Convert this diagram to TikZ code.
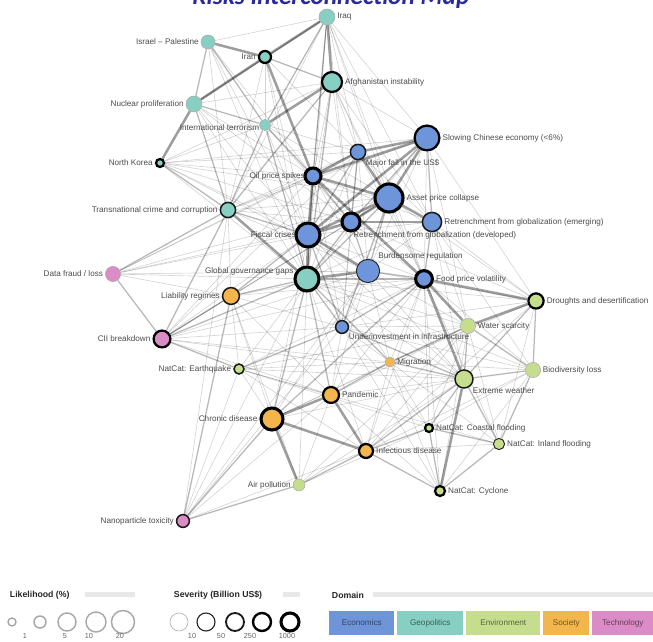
\documentclass[tikz,border=0pt]{standalone}
\usepackage{fontspec}
\setmainfont{Liberation Sans}
\newfontfamily\titlefont{Carlito}
\usepackage{xcolor}
\usetikzlibrary{backgrounds}

\definecolor{econ}{HTML}{6E95DA}
\definecolor{geo}{HTML}{86CFC2}
\definecolor{env}{HTML}{C6DD8E}
\definecolor{soc}{HTML}{F3B64C}
\definecolor{tech}{HTML}{DB8CC6}
\definecolor{titleblue}{HTML}{2A2A9C}

\begin{document}
\begin{tikzpicture}[
    x=0.025cm, y=-0.025cm,
    font=\fontsize{5.8}{7}\selectfont,
    % Styles
    risk/.style={circle, inner sep=0pt},
    econ/.style={risk, fill=econ},
    geo/.style={risk, fill=geo},
    env/.style={risk, fill=env},
    soc/.style={risk, fill=soc},
    tech/.style={risk, fill=tech},
    sev1/.style={draw=gray!65, line width=0.4pt},
    sev2/.style={draw=black!85, line width=0.7pt},
    sev3/.style={draw=black!90, line width=1.1pt},
    sev4/.style={draw=black, line width=1.6pt},
    sev5/.style={draw=black, line width=2.2pt},
    every label/.style={text=black!70, inner sep=0.8pt},
    label distance=0.5pt,
    linkweak/.style={draw=black, draw opacity=0.17, line width=0.45pt},
    linkmid/.style={draw=black, draw opacity=0.28, line width=0.9pt},
    linkstrong/.style={draw=black, draw opacity=0.38, line width=1.8pt},
    legtitle/.style={anchor=west, font=\bfseries\fontsize{6.2}{7}\selectfont, text=black!85},
    legnum/.style={font=\fontsize{5.2}{6}\selectfont, text=black!60},
    legbar/.style={fill=gray!18},
    domainbox/.style={anchor=west, minimum height=0.575cm, inner sep=0pt}
]
\useasboundingbox (0,0) rectangle (653,642);
\clip (0,0) rectangle (653,642);

% --- Title ---
\node[anchor=base, text=titleblue, font=\titlefont\bfseries\itshape\fontsize{18}{20}\selectfont] (title) at (331,5) {Risks Interconnection Map};

% --- Geopolitics ---
\node[geo, sev1, minimum size=0.4cm, label=right:Iraq] (iraq) at (327,17) {};
\node[geo, sev1, minimum size=0.35cm, label=left:Israel – Palestine] (israel) at (208,42) {};
\node[geo, sev4, minimum size=0.3cm, label=left:Iran] (iran) at (265,57) {};
\node[geo, sev4, minimum size=0.5cm, label=right:Afghanistan instability] (afghan) at (332,82) {};
\node[geo, sev1, minimum size=0.4cm, label=left:Nuclear proliferation] (nuclear) at (194,104) {};
\node[geo, sev1, minimum size=0.28cm, label={[label distance=-1pt, yshift=-1.5pt]left:International terrorism}] (terror) at (265,125) {};
\node[geo, sev4, minimum size=0.2cm, label=left:North Korea] (nkorea) at (160,163) {};
\node[geo, sev3, minimum size=0.38cm, label=left:Transnational crime and corruption] (crime) at (228,210) {};
\node[geo, sev5, minimum size=0.6cm, label={[yshift=1.8mm, label distance=-1pt]left:Global governance gaps}] (govgap) at (307,279) {};

% --- Economics ---
\node[econ, sev4, minimum size=0.62cm, label=right:Slowing Chinese economy (<6\%)] (china) at (427,138) {};
\node[econ, sev3, minimum size=0.38cm, label=below right:Major fall in the US\$] (usd) at (358,152) {};
\node[econ, sev5, minimum size=0.4cm, label={[label distance=-2pt]left:Oil price spikes}] (oil) at (313,176) {};
\node[econ, sev5, minimum size=0.7cm, label=right:Asset price collapse] (asset) at (389,198) {};
\node[econ, sev3, minimum size=0.48cm, label=right:Retrenchment from globalization (emerging)] (retr_em) at (432,222) {};
\node[econ, sev5, minimum size=0.45cm, label={[xshift=-5pt]below right:Retrenchment from globalization (developed)}] (retr_dev) at (351,222) {};
\node[econ, sev5, minimum size=0.6cm, label={[label distance=-2pt]left:Fiscal crises}] (fiscal) at (308,235) {};
\node[econ, sev2, minimum size=0.58cm, label=above right:Burdensome regulation] (burden) at (368,271) {};
\node[econ, sev5, minimum size=0.42cm, label=right:Food price volatility] (food) at (424,279) {};
\node[econ, sev3, minimum size=0.32cm, label=below right:Underinvestment in infrastructure] (infra) at (342,327) {};

% --- Technology ---
\node[tech, sev1, minimum size=0.38cm, label=left:Data fraud / loss] (datafraud) at (113,274) {};
\node[tech, sev4, minimum size=0.42cm, label=left:CII breakdown] (cii) at (162,339) {};
\node[tech, sev3, minimum size=0.32cm, label=left:Nanoparticle toxicity] (nano) at (183,521) {};

% --- Society ---
\node[soc, sev3, minimum size=0.42cm, label=left:Liability regimes] (liability) at (231,296) {};
\node[soc, sev1, minimum size=0.25cm, label=right:Migration] (migration) at (390,362) {};
\node[soc, sev4, minimum size=0.4cm, label=right:Pandemic] (pandemic) at (331,395) {};
\node[soc, sev5, minimum size=0.55cm, label=left:Chronic disease] (chronic) at (272,419) {};
\node[soc, sev4, minimum size=0.35cm, label=right:Infectious disease] (infect) at (366,451) {};

% --- Environment ---
\node[env, sev4, minimum size=0.38cm, label=right:Droughts and desertification] (drought) at (536,301) {};
\node[env, sev1, minimum size=0.38cm, label=right:Water scarcity] (water) at (468,326) {};
\node[env, sev3, minimum size=0.25cm, label=left:NatCat: Earthquake] (quake) at (239,369) {};
\node[env, sev1, minimum size=0.38cm, label=right:Biodiversity loss] (biodiv) at (533,370) {};
\node[env, sev3, minimum size=0.45cm, label=below right:Extreme weather] (weather) at (464,379) {};
\node[env, sev4, minimum size=0.2cm, label=right:NatCat: Coastal flooding] (coastal) at (429,428) {};
\node[env, sev2, minimum size=0.28cm, label=right:NatCat: Inland flooding] (inland) at (499,444) {};
\node[env, sev1, minimum size=0.3cm, label=left:Air pollution] (airpoll) at (299,485) {};
\node[env, sev4, minimum size=0.25cm, label=right:NatCat: Cyclone] (cyclone) at (440,491) {};

% --- Interconnections ---
\begin{scope}[on background layer]
    \fill[white] (0,0) rectangle (653,642);
    \foreach \a/\b in {iraq/israel, iraq/china, iraq/retr_dev, iraq/fiscal, iraq/asset, iraq/govgap, iraq/usd, iraq/crime,
        iraq/retr_em, iraq/food, afghan/food, afghan/retr_em, afghan/china,
        israel/govgap, israel/crime, israel/fiscal, israel/oil, iran/govgap, iran/terror, iran/crime, iran/fiscal, iran/usd,
        afghan/oil, afghan/fiscal, afghan/asset, afghan/retr_dev, afghan/usd, afghan/nuclear, afghan/nkorea,
        nuclear/govgap, nuclear/oil, nuclear/fiscal, nuclear/retr_dev, nkorea/oil, nkorea/govgap, nkorea/usd, nkorea/fiscal,
        nkorea/terror, nkorea/asset, nkorea/retr_dev, nkorea/china, nkorea/burden,
        crime/liability, crime/oil, crime/usd, crime/asset, crime/burden, crime/retr_dev, crime/china,
        datafraud/govgap, datafraud/liability, datafraud/fiscal, datafraud/burden, datafraud/oil,
        datafraud/retr_dev, datafraud/usd, datafraud/asset,
        cii/fiscal, cii/infra, cii/oil, cii/weather, cii/migration, cii/pandemic, cii/burden, cii/retr_dev,
        cii/asset, cii/usd, cii/food,
        liability/burden, liability/chronic, liability/pandemic, liability/asset, liability/quake, liability/infra, liability/food,
        quake/weather, quake/coastal, quake/migration, quake/chronic, quake/infect, quake/pandemic, quake/govgap, quake/inland,
        quake/food, quake/water, nano/govgap, nano/pandemic, nano/infect, nano/quake, nano/crime, nano/infra, nano/burden,
        chronic/weather, chronic/water, chronic/migration, chronic/burden, chronic/fiscal,
        pandemic/water, pandemic/food, pandemic/weather, pandemic/burden, pandemic/infra,
        infect/water, infect/drought, infect/biodiv, infect/food, infect/migration, infect/inland,
        airpoll/pandemic, airpoll/govgap, airpoll/water, airpoll/coastal, airpoll/weather, airpoll/liability,
        cyclone/pandemic, cyclone/infra, cyclone/migration, cyclone/biodiv, cyclone/water, cyclone/food,
        inland/water, inland/food, inland/drought, inland/migration, coastal/infra, coastal/biodiv, coastal/water,
        coastal/migration, coastal/food, biodiv/govgap, biodiv/food, biodiv/infra, biodiv/migration,
        water/govgap, water/burden, water/infra, water/retr_em, water/china, drought/retr_em, drought/govgap, drought/infra,
        drought/burden, drought/migration, drought/china, drought/asset, drought/retr_dev,
        food/china, food/asset, food/retr_dev, food/fiscal, food/usd, burden/china, burden/retr_em, burden/oil, burden/usd,
        retr_em/fiscal, retr_em/oil, retr_em/usd, retr_em/govgap, usd/govgap, china/govgap,
        infra/retr_dev, infra/burden, infra/migration, infra/oil, infra/usd, migration/burden, migration/food, migration/fiscal,
        govgap/weather, govgap/infect, weather/retr_em, weather/burden, weather/fiscal, biodiv/retr_em,
        terror/fiscal, terror/asset, terror/usd, terror/retr_dev}
        \draw[linkweak] (\a) -- (\b);
    \foreach \a/\b in {iraq/nuclear, iraq/terror, iraq/oil, israel/nuclear, israel/terror, afghan/iran, afghan/crime,
        afghan/govgap, nuclear/terror, nuclear/crime, terror/crime, terror/govgap, terror/oil, nkorea/crime,
        crime/fiscal, crime/datafraud, datafraud/cii, cii/liability, cii/govgap, cii/quake, cii/crime,
        liability/govgap, liability/fiscal, liability/nano, drought/biodiv, drought/weather, water/biodiv, weather/biodiv,
        weather/coastal, weather/inland, water/weather, water/migration, infra/govgap, infra/fiscal, infra/food,
        infra/weather, migration/weather, migration/pandemic, migration/govgap, pandemic/govgap, chronic/govgap,
        infect/cyclone, infect/coastal, infect/weather, nano/airpoll, nano/chronic, airpoll/infect, cyclone/coastal,
        inland/coastal, quake/infra, food/burden, food/retr_em, burden/asset, burden/retr_dev, retr_em/china,
        retr_dev/usd, govgap/retr_dev, govgap/food, govgap/asset, govgap/oil, infra/asset, china/retr_dev,
        cyclone/inland, biodiv/inland, usd/fiscal, oil/retr_dev, chronic/food}
        \draw[linkmid] (\a) -- (\b);
    \foreach \a/\b in {iraq/afghan, iraq/iran, israel/iran, iran/nuclear, afghan/terror, nuclear/nkorea, iran/oil,
        china/asset, china/usd, china/oil, asset/usd, asset/fiscal, asset/retr_dev, asset/oil, asset/retr_em,
        fiscal/govgap, fiscal/oil, fiscal/retr_dev, fiscal/burden, retr_dev/retr_em, usd/oil, china/fiscal,
        food/drought, food/water, food/weather, drought/water, weather/cyclone, oil/food,
        chronic/airpoll, chronic/pandemic, chronic/infect, pandemic/infect, govgap/crime, govgap/burden}
        \draw[linkstrong] (\a) -- (\b);
\end{scope}

% --- Legend: Likelihood ---
\node[legtitle] (lk_title) at (5,595) {Likelihood (\%)};
\fill[legbar] (85,592.5) rectangle (135,597.5);
\foreach \x/\r [count=\i] in {12/4, 40/6, 67/9, 96/10, 123/11.5}
    \node[circle, draw=gray!70, line width=1pt, inner sep=0pt, minimum size=\r*0.05cm] (lk\i) at (\x,622) {};
\foreach \x/\t [count=\i] in {25/1, 65/5, 89/10, 120/20}
    \node[legnum] (lkn\i) at (\x,636) {\t};

% --- Legend: Severity ---
\node[legtitle] (sv_title) at (169,595) {Severity (Billion US\$)};
\fill[legbar] (283,592.5) rectangle (300,597.5);
\foreach \x/\w/\c [count=\i] in {179/0.4/gray!70, 206/0.8/black!85, 235/1.3/black!90, 262/1.7/black, 290/2.2/black}
    \node[circle, draw=\c, line width=\w pt, inner sep=0pt, minimum size=0.45cm] (sv\i) at (\x,622) {};
\foreach \x/\t [count=\i] in {192/10, 221/50, 250/250, 287/1000}
    \node[legnum] (svn\i) at (\x,636) {\t};

% --- Legend: Domain ---
\node[legtitle] (dm_title) at (327,595) {Domain};
\fill[legbar] (373,592.5) rectangle (653,597.5);
\node[domainbox, fill=econ, text=econ!45!black, minimum width=65*0.025cm] (dm_econ) at (329,623) {Economics};
\node[domainbox, fill=geo, text=geo!45!black, minimum width=66*0.025cm] (dm_geo) at (397,623) {Geopolitics};
\node[domainbox, fill=env, text=env!45!black, minimum width=74*0.025cm] (dm_env) at (466,623) {Environment};
\node[domainbox, fill=soc, text=soc!45!black, minimum width=46*0.025cm] (dm_soc) at (543,623) {Society};
\node[domainbox, fill=tech, text=tech!45!black, minimum width=61*0.025cm] (dm_tech) at (592,623) {Technology};

\end{tikzpicture}
\end{document}
